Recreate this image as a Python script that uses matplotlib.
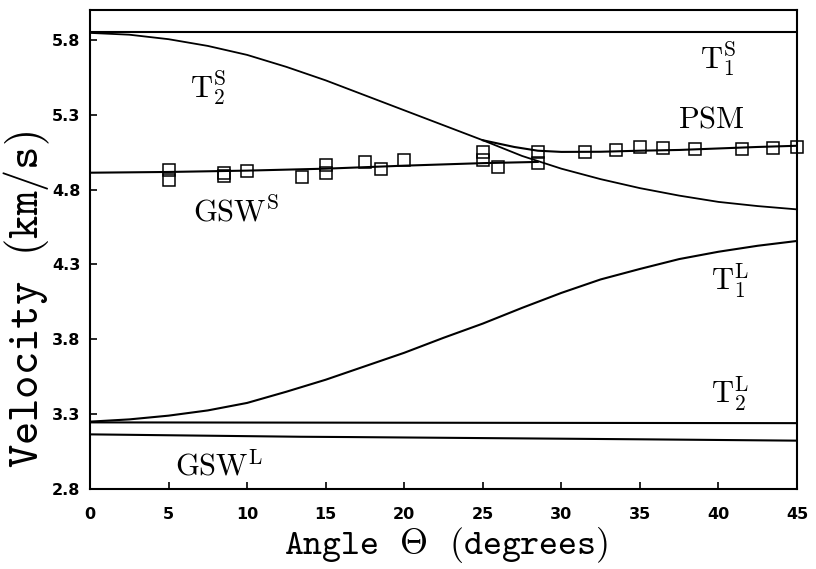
import matplotlib
matplotlib.use("Agg")
import matplotlib.pyplot as plt

plt.rcParams['mathtext.fontset'] = 'cm'

# ---------------- data ----------------
theta_t2s = [0, 2.5, 5, 7.5, 10, 12.5, 15, 17.5, 20, 22.5, 25, 27.5, 30, 32.5, 35, 37.5, 40, 42.5, 45]
v_t2s = [5.847, 5.835, 5.805, 5.76, 5.70, 5.62, 5.53, 5.43, 5.33, 5.23, 5.13, 5.025, 4.94, 4.87, 4.81, 4.76, 4.718, 4.69, 4.668]

theta_t1s = [0, 45]
v_t1s = [5.85, 5.85]

theta_gsws = [0, 5, 10, 15, 20, 25, 28.5]
v_gsws = [4.913, 4.918, 4.927, 4.94, 4.96, 4.977, 4.985]

theta_psm = [25, 27, 28.5, 30, 32.5, 35, 37.5, 40, 42.5, 45]
v_psm = [5.13, 5.085, 5.06, 5.052, 5.053, 5.06, 5.065, 5.075, 5.085, 5.093]

theta_t1l = [0, 2.5, 5, 7.5, 10, 12.5, 15, 17.5, 20, 22.5, 25, 27.5, 30, 32.5, 35, 37.5, 40, 42.5, 45]
v_t1l = [3.25, 3.265, 3.29, 3.325, 3.375, 3.45, 3.53, 3.62, 3.71, 3.81, 3.905, 4.01, 4.11, 4.20, 4.27, 4.336, 4.385, 4.425, 4.457]

theta_t2l = [0, 45]
v_t2l = [3.245, 3.24]

theta_gswl = [0, 13.4, 16.5, 35, 45]
v_gswl = [3.165, 3.149, 3.147, 3.132, 3.123]

theta_meas = [5, 5, 8.5, 8.5, 10, 13.5, 15, 15, 17.5, 18.5, 20, 25, 25, 26, 28.5, 28.5,
              31.5, 33.5, 35, 36.5, 38.5, 41.5, 43.5, 45]
v_meas = [4.931, 4.865, 4.91, 4.89, 4.927, 4.886, 4.965, 4.91, 4.984, 4.935, 4.995, 5.053, 4.998,
          4.953, 5.053, 4.976, 5.05, 5.067, 5.085, 5.081, 5.073, 5.073, 5.077, 5.083]

x_ticks = [0, 5, 10, 15, 20, 25, 30, 35, 40, 45]
y_ticks = [2.8, 3.3, 3.8, 4.3, 4.8, 5.3, 5.8]

# ---------------- figure ----------------
W, H = 816, 569
fig = plt.figure(figsize=(W / 100, H / 100), dpi=100)
L, R, B, T = 90, 797, 489, 10
ax = fig.add_axes([L / W, 1 - B / H, (R - L) / W, (B - T) / H])

lw = 1.5
ax.plot(theta_t1s, v_t1s, color='black', lw=lw)
ax.plot(theta_t2s, v_t2s, color='black', lw=1.3)
ax.plot(theta_gsws, v_gsws, color='black', lw=lw)
ax.plot(theta_psm, v_psm, color='black', lw=lw)
ax.plot(theta_t1l, v_t1l, color='black', lw=lw)
ax.plot(theta_t2l, v_t2l, color='black', lw=lw)
ax.plot(theta_gswl, v_gswl, color='black', lw=lw)
ax.plot(theta_meas, v_meas, linestyle='none', marker='s', markersize=9,
        markerfacecolor='none', markeredgecolor='black', markeredgewidth=1.1, clip_on=False)

ax.set_xlim(0, 45)
ax.set_ylim(2.8, 6.0)
ax.set_xticks(x_ticks)
ax.set_yticks(y_ticks)
ax.set_xticklabels([str(t) for t in x_ticks])
ax.set_yticklabels([f"{t:.1f}" for t in y_ticks])
ax.tick_params(axis='both', direction='in', length=5, width=1.2,
               labelsize=11.5)
ax.tick_params(axis='x', pad=13)
ax.tick_params(axis='y', pad=7)
for lab in ax.get_xticklabels() + ax.get_yticklabels():
    lab.set_fontweight('heavy')
    lab.set_family('DejaVu Sans')
for s in ax.spines.values():
    s.set_linewidth(1.5)

# curve labels
fs = 22
ax.text(6.37, 5.42, r'$\mathrm{T}_2^{\mathrm{S}}$', fontsize=fs, va='baseline', ha='left')
ax.text(38.8, 5.612, r'$\mathrm{T}_1^{\mathrm{S}}$', fontsize=fs, va='baseline', ha='left')
ax.text(37.4, 5.218, r'$\mathrm{PSM}$', fontsize=fs, va='baseline', ha='left')
ax.text(6.56, 4.584, r'$\mathrm{GSW}^{\mathrm{S}}$', fontsize=fs, va='baseline', ha='left')
ax.text(39.5, 4.13, r'$\mathrm{T}_1^{\mathrm{L}}$', fontsize=fs, va='baseline', ha='left')
ax.text(39.5, 3.374, r'$\mathrm{T}_2^{\mathrm{L}}$', fontsize=fs, va='baseline', ha='left')
ax.text(5.41, 2.894, r'$\mathrm{GSW}^{\mathrm{L}}$', fontsize=fs, va='baseline', ha='left')

# axis labels
fig.text(446 / W, 1 - 545 / H, r'$\mathtt{Angle}\ \ \Theta\ \ \mathtt{(degrees)}$',
         fontsize=26, ha='center', va='center')
fig.text(27 / W, 1 - 300 / H, r'$\mathtt{Velocity\ \ (km/s)}$',
         fontsize=32, ha='center', va='center', rotation=90)

fig.savefig('out.png', dpi=100)
